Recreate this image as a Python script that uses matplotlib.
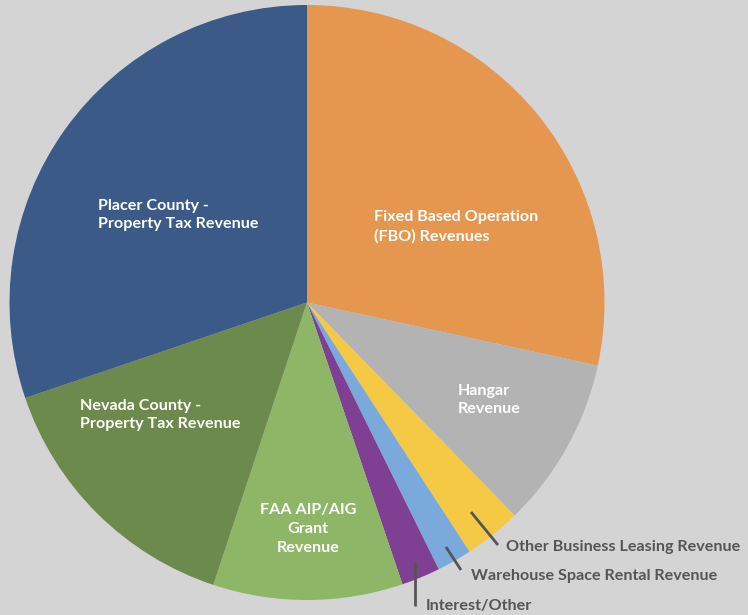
import matplotlib.pyplot as plt

# revenue shares (percent), clockwise from 12 o'clock
labels = ['Fixed Based Operation\n(FBO) Revenues', 'Hangar\nRevenue',
          'Other Business Leasing Revenue', 'Warehouse Space Rental Revenue',
          'Interest/Other', 'FAA AIP/AIG\nGrant\nRevenue',
          'Nevada County -\nProperty Tax Revenue', 'Placer County -\nProperty Tax Revenue']
values = [28.4, 9.3, 3.1, 1.9, 2.1, 10.3, 14.7, 30.2]
colors = ['#E5964F', '#B3B3B3', '#F6C945', '#7AAADB', '#7F3F93',
          '#8DB767', '#6B8A4B', '#3B5A87']

BG = '#D4D4D4'
CX, CY, R = 307, 615 - 302.5, 297.5

fig = plt.figure(figsize=(7.48, 6.15), dpi=100, facecolor=BG)
ax = fig.add_axes([0, 0, 1, 1])
ax.set_facecolor(BG)
ax.axis('off')

ax.pie(values, colors=colors, startangle=90, counterclock=False,
       center=(CX, CY), radius=R, wedgeprops=dict(linewidth=0))
ax.set_xlim(0, 748)
ax.set_ylim(0, 615)
ax.set_aspect('equal')

font = dict(family=['Lato', 'DejaVu Sans'], fontweight='bold', fontsize=11.6)

def y(p):
    return 615 - p

# labels inside the slices (white)
inside = dict(color='white', va='center', linespacing=1.45, **font)
ax.text(374, y(227), labels[0], ha='left', **inside)
ax.text(458, y(400), labels[1], ha='left', **inside)
ax.text(308, y(529), labels[5], ha='center', **inside)
ax.text(80, y(415), labels[6], ha='left', **inside)
ax.text(98, y(215), labels[7], ha='left', **inside)

# outside labels with leader lines
grey = '#555555'
ax.plot([471, 498], [y(512), y(545)], color=grey, lw=2, solid_capstyle='butt')
ax.plot([446, 461], [y(547), y(570)], color=grey, lw=2, solid_capstyle='butt')
ax.plot([415, 415], [y(562), y(606)], color=grey, lw=2, solid_capstyle='butt')
ax.text(506, y(547), labels[2], color=grey, ha='left', va='center', **font)
ax.text(471, y(576), labels[3], color=grey, ha='left', va='center', **font)
ax.text(426, y(606), labels[4], color=grey, ha='left', va='center', **font)

fig.savefig('out.png', dpi=100, facecolor=BG)
